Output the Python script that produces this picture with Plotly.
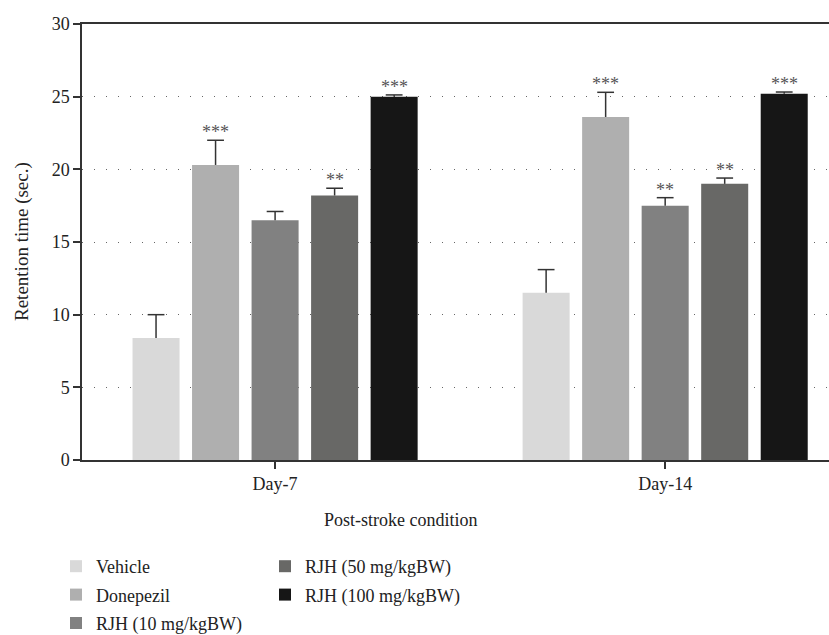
import plotly.graph_objects as go

days = ["Day-7", "Day-14"]
groups = ["Vehicle", "Donepezil", "RJH (10 mg/kgBW)", "RJH (50 mg/kgBW)", "RJH (100 mg/kgBW)"]
means = {
    "Vehicle": [8.4, 11.5],
    "Donepezil": [20.3, 23.6],
    "RJH (10 mg/kgBW)": [16.5, 17.5],
    "RJH (50 mg/kgBW)": [18.2, 19.0],
    "RJH (100 mg/kgBW)": [25.0, 25.2],
}
errs = {
    "Vehicle": [1.6, 1.6],
    "Donepezil": [1.7, 1.7],
    "RJH (10 mg/kgBW)": [0.6, 0.55],
    "RJH (50 mg/kgBW)": [0.5, 0.4],
    "RJH (100 mg/kgBW)": [0.12, 0.12],
}
stars = {
    "Vehicle": ["", ""],
    "Donepezil": ["***", "***"],
    "RJH (10 mg/kgBW)": ["", "**"],
    "RJH (50 mg/kgBW)": ["**", "**"],
    "RJH (100 mg/kgBW)": ["***", "***"],
}
colors = ["#d9d9d9", "#afafaf", "#818181", "#686866", "#161616"]
legend_of = ["legend", "legend", "legend", "legend2", "legend2"]

FONT = "Liberation Serif"
FS = 18
TXT = "#222222"
ERRC = "#333333"
BARGAP = 0.237
BARGROUPGAP = 0.21

fig = go.Figure()
for i, g in enumerate(groups):
    fig.add_trace(go.Bar(
        name=g, x=days, y=means[g],
        marker=dict(color=colors[i], line=dict(width=0)),
        error_y=dict(type="data", array=errs[g], arrayminus=[0] * len(days),
                     symmetric=False, color=ERRC, thickness=1.5, width=0),
        legend=legend_of[i], legendgroup=g, offsetgroup=str(i),
    ))
# caps of the upper error bars
for i, g in enumerate(groups):
    fig.add_trace(go.Scatter(
        x=days, y=[m + e for m, e in zip(means[g], errs[g])],
        mode="markers", showlegend=False, hoverinfo="skip",
        marker=dict(symbol="line-ew", size=12, color=ERRC, line=dict(width=1.5, color=ERRC)),
        offsetgroup=str(i), legendgroup=g,
    ))

# significance asterisks above error bars
n = len(groups)
slot = (1 - BARGAP) / n
annotations = []
for i, g in enumerate(groups):
    off = -(1 - BARGAP) / 2 + (i + 0.5) * slot
    for j, d in enumerate(days):
        if stars[g][j]:
            annotations.append(dict(
                x=j + off, y=means[g][j] + errs[g][j], xref="x", yref="y",
                text=stars[g][j], showarrow=False, yanchor="bottom", yshift=-4,
                font=dict(family=FONT, size=FS, color="#555555"),
            ))

annotations.append(dict(
    x=(401 - 82) / 747, y=(460 - 520) / 436, xref="paper", yref="paper",
    text="Post-stroke condition",
    showarrow=False, xanchor="center", yanchor="middle",
    font=dict(family=FONT, size=FS, color=TXT),
))
annotations.append(dict(
    x=(22 - 82) / 747, y=(460 - 242) / 436, xref="paper", yref="paper",
    text="Retention time (sec.)", textangle=-90,
    showarrow=False, xanchor="center", yanchor="middle",
    font=dict(family=FONT, size=19, color=TXT),
))

legend_common = dict(yref="container", xref="container", y=(635 - 548) / 635,
                     xanchor="left", yanchor="top", orientation="v", tracegroupgap=2,
                     font=dict(family=FONT, size=FS, color=TXT), bgcolor="rgba(0,0,0,0)")

fig.update_layout(
    width=829, height=635,
    margin=dict(l=82, r=0, t=24, b=175, autoexpand=False),
    plot_bgcolor="white", paper_bgcolor="white",
    barmode="group", bargap=BARGAP, bargroupgap=BARGROUPGAP,
    scattermode="group", scattergap=BARGAP,
    font=dict(family=FONT, size=FS, color=TXT),
    annotations=annotations,
    legend=dict(x=56 / 829, **legend_common),
    legend2=dict(x=265 / 829, **legend_common),
    xaxis=dict(
        type="category", range=[-0.495, 1.42],
        showline=True, linecolor="#333333", linewidth=1.5, mirror=True,
        ticks="outside", ticklen=7, tickwidth=1.5, tickcolor="#333333",
        showgrid=False, zeroline=False,
        tickfont=dict(family=FONT, size=FS, color=TXT),
    ),
    yaxis=dict(
        range=[0, 30], tickvals=[0, 5, 10, 15, 20, 25, 30],
        showline=True, linecolor="#333333", linewidth=1.5,
        ticks="outside", ticklen=7, tickwidth=1.5, tickcolor="#333333",
        showgrid=True, gridcolor="#666666", gridwidth=1.2, griddash="1px,11px",
        zeroline=False,
        tickfont=dict(family=FONT, size=FS, color=TXT),
    ),
)

fig.write_html("out.html")
